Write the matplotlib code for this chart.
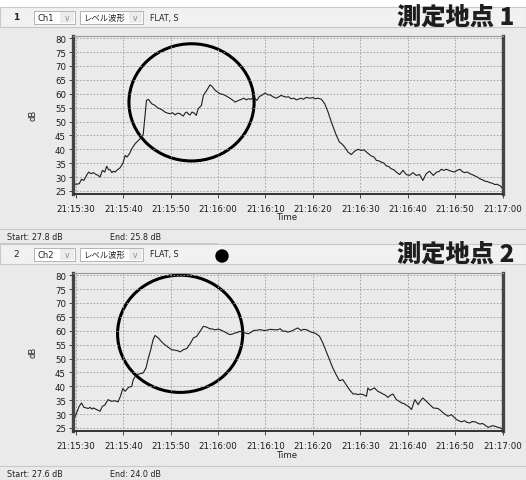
import matplotlib
matplotlib.use("Agg")
import matplotlib.pyplot as plt
from matplotlib.patches import Rectangle, Ellipse

# time in seconds after 21:15:30, level in dB
t1 = [-0.5, 0.0, 0.7, 1.2, 1.7, 2.25, 2.7, 3.2, 3.7, 4.2, 4.7, 5.1, 5.6, 6.1, 6.5, 6.9, 7.2, 7.6, 7.9, 8.3,
      8.6, 9.3, 9.9, 10.4, 10.8, 11.3, 11.8, 12.5, 13.2, 13.9, 14.2, 14.6, 14.9, 15.3, 16.0, 16.7, 17.2, 17.7,
      18.2, 18.8, 19.4, 19.9, 20.4, 20.9, 21.5, 22.0, 22.4, 22.7, 23.0, 23.4, 23.8, 24.1, 24.5, 24.8, 25.1,
      25.4, 25.8, 26.5, 26.9, 27.6, 28.3, 28.7, 29.4, 29.9, 30.4, 31.0, 31.5, 32.0, 32.5, 33.0, 33.6, 34.3,
      34.8, 35.4, 36.0, 36.4, 37.0, 37.5, 38.2, 38.7, 39.2, 39.9, 40.5, 41.0, 41.6, 42.3, 42.9, 43.3, 43.9,
      44.4, 44.9, 45.4, 46.0, 46.5, 47.0, 47.5, 48.0, 48.6, 49.3, 50.0, 50.5, 51.1, 51.8, 52.5, 53.2, 53.9,
      54.9, 55.6, 56.2, 56.7, 57.4, 58.1, 58.8, 59.5, 60.2, 60.8, 61.3, 62.3, 62.9, 63.4, 64.0, 64.4, 65.0,
      65.5, 66.0, 66.5, 67.1, 67.6, 68.3, 69.0, 69.7, 70.4, 71.1, 71.8, 72.5, 73.2, 73.9, 74.6, 75.4, 76.1,
      76.6, 77.1, 77.6, 78.2, 78.7, 79.2, 79.9, 80.4, 81.0, 81.5, 82.0, 82.6, 83.1, 83.6, 84.2, 84.7, 85.2,
      85.8, 86.3, 86.8, 87.3, 87.8, 88.4, 88.9, 89.3, 89.7, 90.0]
db1 = [27.8, 27.4, 27.6, 29.2, 28.8, 30.6, 31.8, 31.2, 31.6, 31.0, 30.6, 30.0, 32.4, 31.8, 33.9, 32.6, 32.7,
       31.6, 32.1, 31.8, 32.4, 33.3, 34.8, 37.8, 37.2, 38.4, 40.2, 42.0, 43.2, 44.4, 45.2, 52.2, 57.6, 58.0,
       56.4, 55.8, 55.0, 54.6, 54.2, 53.4, 53.0, 52.8, 53.2, 52.4, 53.0, 52.8, 52.2, 52.0, 53.0, 53.4, 52.6,
       52.4, 53.4, 53.2, 52.8, 52.2, 54.6, 55.8, 59.4, 61.2, 63.2, 62.7, 61.2, 60.6, 60.0, 59.8, 59.4, 58.9,
       58.4, 57.8, 57.0, 57.6, 57.9, 58.4, 57.8, 58.2, 58.0, 58.8, 57.6, 59.0, 59.4, 60.3, 59.6, 59.6, 58.9,
       58.4, 59.0, 59.4, 59.0, 58.8, 58.9, 58.2, 58.4, 57.8, 58.1, 58.4, 58.0, 58.7, 58.4, 58.6, 58.2, 58.4,
       58.0, 56.4, 53.4, 49.8, 45.2, 42.6, 41.8, 40.8, 39.0, 38.1, 39.3, 40.0, 39.6, 39.8, 39.0, 37.6, 37.2,
       36.0, 35.8, 35.4, 35.0, 34.0, 33.8, 33.0, 32.6, 31.8, 30.9, 32.4, 30.9, 30.6, 31.6, 30.6, 30.9, 28.8,
       31.2, 32.1, 30.6, 31.8, 32.0, 32.8, 32.4, 32.8, 32.4, 32.1, 31.8, 32.4, 32.8, 32.0, 31.6, 31.8, 31.2,
       30.9, 30.4, 30.0, 29.4, 29.0, 28.5, 28.4, 28.0, 27.8, 27.3, 27.4, 27.0, 26.6, 25.8]

t2 = [-0.5, 0.0, 0.3, 0.7, 1.2, 1.7, 2.25, 2.6, 3.0, 3.4, 3.7, 4.4, 5.1, 5.6, 6.1, 6.8, 7.5, 8.2, 8.9, 9.4,
      9.9, 10.4, 11.1, 11.8, 12.1, 12.8, 13.5, 14.2, 14.8, 15.3, 15.8, 16.3, 16.7, 17.4, 18.1, 18.6, 19.2,
      19.7, 20.2, 20.8, 21.3, 22.0, 22.7, 23.4, 24.1, 24.8, 25.5, 26.2, 26.9, 27.6, 28.3, 28.9, 29.4, 30.0,
      30.4, 31.0, 31.5, 32.0, 32.5, 33.0, 33.6, 34.1, 34.6, 35.1, 35.7, 36.4, 37.0, 37.5, 38.2, 38.9, 39.6,
      40.3, 41.0, 41.7, 42.3, 42.6, 43.1, 43.7, 44.2, 44.7, 45.3, 45.8, 46.3, 46.8, 47.5, 48.0, 48.6, 49.1,
      49.6, 50.2, 50.7, 51.4, 52.1, 52.8, 53.5, 54.2, 54.9, 55.6, 56.3, 57.0, 57.7, 58.5, 59.0, 59.5, 60.0,
      60.6, 61.3, 61.6, 62.0, 62.3, 63.0, 63.7, 64.2, 64.8, 65.3, 65.8, 66.4, 66.9, 67.6, 68.2, 68.7, 69.2,
      69.7, 70.3, 70.8, 71.5, 71.9, 72.2, 72.7, 73.2, 73.8, 74.3, 74.9, 75.4, 76.4, 77.0, 77.5, 78.0, 78.5,
      79.2, 79.8, 80.3, 80.8, 81.3, 82.0, 82.5, 83.1, 83.6, 84.2, 84.7, 85.2, 85.8, 86.3, 87.0, 87.5, 88.0,
      88.6, 89.1, 89.6, 90.0]
db2 = [27.6, 29.8, 31.0, 32.8, 34.0, 32.4, 32.2, 32.0, 32.4, 31.8, 32.2, 31.6, 31.0, 32.8, 33.2, 35.2, 34.6,
       34.8, 34.4, 36.4, 39.2, 38.2, 39.6, 40.0, 42.4, 44.2, 44.5, 44.8, 46.6, 50.2, 53.2, 56.8, 58.3, 57.4,
       56.0, 55.2, 54.4, 53.8, 53.2, 53.0, 52.9, 52.4, 53.2, 53.6, 55.3, 57.4, 58.0, 59.8, 61.6, 61.3, 60.7,
       60.6, 60.3, 60.6, 60.4, 59.9, 59.5, 59.0, 58.6, 58.8, 59.2, 59.4, 59.8, 59.5, 59.2, 58.9, 59.5, 60.1,
       60.2, 60.4, 60.1, 60.2, 60.5, 60.4, 60.3, 60.4, 60.7, 59.8, 59.9, 59.5, 59.8, 60.1, 60.6, 61.0, 60.1,
       60.5, 60.4, 60.0, 59.5, 59.3, 58.9, 58.0, 55.6, 52.6, 49.6, 46.6, 44.2, 42.0, 42.4, 40.6, 38.8, 37.2,
       37.3, 37.0, 37.2, 37.0, 36.4, 39.4, 38.6, 38.8, 39.4, 38.2, 37.8, 37.2, 36.8, 36.0, 36.8, 37.2, 35.2,
       34.6, 34.0, 33.8, 33.2, 32.6, 31.6, 35.2, 34.2, 33.4, 34.8, 35.8, 34.8, 34.0, 33.0, 32.2, 32.0, 31.2,
       30.4, 29.8, 29.2, 29.8, 28.8, 28.0, 27.6, 27.2, 27.6, 27.0, 26.8, 27.3, 27.2, 26.8, 26.4, 26.6, 26.0,
       25.2, 25.6, 25.8, 25.5, 25.2, 25.0, 24.4]

tick_secs = [0, 10, 20, 30, 40, 50, 60, 70, 80, 90]
tick_labels = ["21:15:30", "21:15:40", "21:15:50", "21:16:00", "21:16:10",
               "21:16:20", "21:16:30", "21:16:40", "21:16:50", "21:17:00"]
db_ticks = [25, 30, 35, 40, 45, 50, 55, 60, 65, 70, 75, 80]

panels = [
    dict(num="1", ch="Ch1", title="測定地点 1", start="Start: 27.8 dB", end="End: 25.8 dB",
         t=t1, db=db1, circle=(24.4, 56.9), top=8, dot=False),
    dict(num="2", ch="Ch2", title="測定地点 2", start="Start: 27.6 dB", end="End: 24.0 dB",
         t=t2, db=db2, circle=(22.0, 58.9), top=245, dot=True),
]

W, H = 526, 481
fig = plt.figure(figsize=(W / 100, H / 100), dpi=100, facecolor="#eaeaea")
jp = ["Noto Sans CJK JP", "DejaVu Sans"]


def fx(x):
    return x / W


def fy(y):
    return 1 - y / H


def box(x0, y0, x1, y1, **kw):
    fig.add_artist(Rectangle((fx(x0), fy(y1)), (x1 - x0) / W, (y1 - y0) / H,
                             transform=fig.transFigure, **kw))


def label(x, y, s, **kw):
    kw.setdefault("fontsize", 6)
    kw.setdefault("va", "center")
    kw.setdefault("color", "#222222")
    fig.text(fx(x), fy(y), s, **kw)


box(0, 0, W, 8, facecolor="white", edgecolor="none")

for p in panels:
    y0 = p["top"]
    # header strip
    box(0, y0, W, y0 + 20, facecolor="#f1f1f1", edgecolor="#c8c8c8", linewidth=0.8)
    label(13, y0 + 10, p["num"], fontweight="bold" if p["num"] == "1" else "normal", fontsize=6.5)
    box(34, y0 + 4, 75, y0 + 17, facecolor="white", edgecolor="#a8a8a8", linewidth=0.6)
    box(60, y0 + 5, 74, y0 + 16, facecolor="#ececec", edgecolor="none")
    label(38, y0 + 10.5, p["ch"])
    label(67, y0 + 10.5, "v", ha="center", color="#888888", fontsize=5.5)
    box(80, y0 + 4, 143, y0 + 17, facecolor="white", edgecolor="#a8a8a8", linewidth=0.6)
    box(129, y0 + 5, 142, y0 + 16, facecolor="#ececec", edgecolor="none")
    label(83, y0 + 10.5, "レベル波形", family=jp, fontsize=6)
    label(135.5, y0 + 10.5, "v", ha="center", color="#888888", fontsize=5.5)
    label(150, y0 + 10, "FLAT, S", fontsize=5.8)
    label(514, y0 + 9, p["title"], ha="right", family=jp, fontweight="heavy",
          fontsize=17.5, color="#1e1e1e")
    if p["dot"]:
        fig.add_artist(Ellipse((fx(222), fy(y0 + 12)), 12 / W, 12 / H,
                               transform=fig.transFigure, color="black"))

    # plot area
    ax_top = y0 + 28.7
    ax = fig.add_axes([fx(73), fy(ax_top + 158.3), 430 / W, 158.3 / H])
    ax.set_facecolor("#eaeaea")
    ax.plot(p["t"], p["db"], color="#1e1e1e", linewidth=0.8)
    ax.set_xlim(-0.6, 90.1)
    ax.set_ylim(23.9, 80.9)
    ax.set_xticks(tick_secs)
    ax.set_xticklabels(tick_labels)
    ax.set_yticks(db_ticks)
    ax.tick_params(labelsize=6.2, length=3, width=0.7, color="#444444", pad=2, labelcolor="#1a1a1a")
    ax.tick_params(axis="x", pad=4)
    ax.grid(True, color="#9a9a9a", linestyle=(0, (2, 2)), linewidth=0.6)
    for side, lw, col in [("left", 2.4, "#444444"), ("right", 2.4, "#444444"),
                          ("bottom", 1.4, "#333333"), ("top", 0.8, "#999999")]:
        ax.spines[side].set_linewidth(lw)
        ax.spines[side].set_color(col)
    ax.set_xlabel("Time", fontsize=6.2, color="#222222")
    ax.xaxis.set_label_coords(0.5, -23 / 158.3)
    ax.xaxis.label.set_va("center")
    ax.set_ylabel("dB", fontsize=6, color="#222222")
    ax.yaxis.set_label_coords(-36 / 430, 0.5)
    cx, cy = p["circle"]
    ax.add_patch(Ellipse((cx, cy), 26.4, 42.2, fill=False, edgecolor="black",
                         linewidth=2.2, clip_on=False))

    # footer
    fy0 = y0 + 222
    fig.add_artist(plt.Line2D([0, 1], [fy(fy0), fy(fy0)], transform=fig.transFigure,
                              color="#c8c8c8", linewidth=0.8))
    label(7, fy0 + 8, p["start"], fontsize=5.8)
    label(110, fy0 + 8, p["end"], fontsize=5.8)
    fig.add_artist(plt.Line2D([0, fx(217)], [fy(fy0 + 14), fy(fy0 + 14)],
                              transform=fig.transFigure, color="#c8c8c8", linewidth=0.8))

fig.savefig("out.png", dpi=100, facecolor=fig.get_facecolor())
